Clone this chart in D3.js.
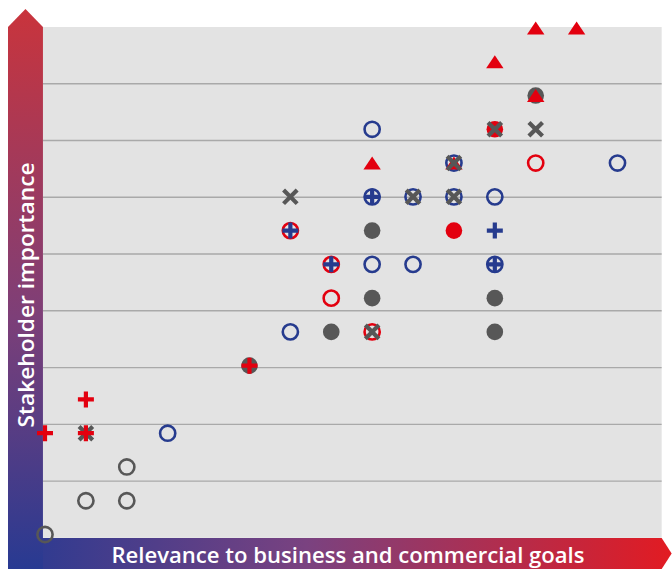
<!DOCTYPE html>
<html>
<head>
<meta charset="utf-8">
<script src="https://cdn.jsdelivr.net/npm/d3@7"></script>
<style>
body { margin: 0; background: #ffffff; }
</style>
</head>
<body>
<script>

//==============================================================================
// data: [relevance, importance] scores per marker type

var blueOpenCircles = [[3,3],[6,6],[8,8],[9,8],[11,8],[8,10],[9,10],[10,10],[11,10],[10,11],[14,11],[8,12]];
var redOpenCircles  = [[8,6],[7,7],[7,8],[6,9],[12,11]];
var grayOpenCircles = [[0,0],[1,1],[2,1],[2,2]];
var grayDots        = [[5,5],[7,6],[11,6],[8,7],[11,7],[8,9],[12,13]];
var redDots         = [[10,9],[11,12]];
var redTriangles    = [[8,11],[10,11],[12,13],[11,14],[12,15],[13,15]];
var grayCrosses     = [[1,3],[8,6],[6,10],[9,10],[10,10],[10,11],[11,12],[12,12]];
var redPluses       = [[0,3],[1,3],[1,4],[5,5]];
var bluePluses      = [[7,8],[11,8],[6,9],[11,9],[8,10]];

var xLabel = "Relevance to business and commercial goals";
var yLabel = "Stakeholder importance";

var BLUE = "#263b8e";
var RED = "#e3000f";
var GRAY = "#575757";

//==============================================================================

var totalWidth = 672;
var totalHeight = 569;

var svg = d3.select("body").append("svg")
    .attr("width", totalWidth)
    .attr("height", totalHeight);

var x = d3.scaleLinear().domain([0, 14]).range([45, 617.5]);
var y = d3.scaleLinear().domain([0, 15]).range([534.5, 28]);

var xMin = -0.05, xMax = 15.08;
var yMin = -0.1, yMax = 15.03;

var defs = svg.append("defs");

var gradV = defs.append("linearGradient").attr("id", "gradV")
    .attr("x1", 0).attr("y1", 0).attr("x2", 0).attr("y2", 1);
gradV.append("stop").attr("offset", "0%").attr("stop-color", "#c9343c");
gradV.append("stop").attr("offset", "55%").attr("stop-color", "#7d3f78");
gradV.append("stop").attr("offset", "100%").attr("stop-color", "#283a92");

var gradH = defs.append("linearGradient").attr("id", "gradH")
    .attr("x1", 0).attr("y1", 0).attr("x2", 1).attr("y2", 0);
gradH.append("stop").attr("offset", "0%").attr("stop-color", "#283a92");
gradH.append("stop").attr("offset", "45%").attr("stop-color", "#7a4280");
gradH.append("stop").attr("offset", "100%").attr("stop-color", "#e21b22");

// plot background
svg.append("rect")
    .attr("x", x(xMin)).attr("y", y(yMax))
    .attr("width", x(xMax) - x(xMin))
    .attr("height", y(yMin) - y(yMax))
    .attr("fill", "#e3e3e3");

// horizontal grid
var gridValues = d3.range(1, 9).map(function(k) { return yMin + k * (yMax - yMin) / 9; });
svg.append("g").selectAll("line").data(gridValues).enter().append("line")
    .attr("x1", x(xMin)).attr("x2", x(xMax))
    .attr("y1", function(d) { return y(d); })
    .attr("y2", function(d) { return y(d); })
    .attr("stroke", "#a9a9a9")
    .attr("stroke-width", 1.4);

// axis arrows
var arrLeft = 8, plotTop = y(yMax), plotBottom = y(yMin), plotLeft = x(xMin), plotRight = x(xMax);

svg.append("path")
    .attr("d", "M" + plotRight + "," + plotBottom + "L" + arrLeft + "," + plotBottom +
               "L" + arrLeft + "," + totalHeight + "L" + plotRight + "," + totalHeight +
               "L" + (plotRight + 10) + "," + ((plotBottom + totalHeight) / 2) + "Z")
    .attr("fill", "url(#gradH)");

svg.append("path")
    .attr("d", "M" + arrLeft + "," + plotTop + "L" + ((arrLeft + plotLeft) / 2) + ",9L" + plotLeft + "," + plotTop +
               "L" + plotLeft + "," + totalHeight + "L" + arrLeft + "," + totalHeight + "Z")
    .attr("fill", "url(#gradV)");

svg.append("text")
    .attr("x", 348).attr("y", 562.5)
    .attr("text-anchor", "middle")
    .attr("textLength", 473).attr("lengthAdjust", "spacingAndGlyphs")
    .style("font-family", "'Open Sans', 'Noto Sans', sans-serif")
    .style("font-size", "22px")
    .style("font-weight", "600")
    .attr("fill", "#ffffff")
    .text(xLabel);

svg.append("text")
    .attr("transform", "translate(33.5,295) rotate(-90)")
    .attr("text-anchor", "middle")
    .attr("textLength", 265).attr("lengthAdjust", "spacingAndGlyphs")
    .style("font-family", "'Open Sans', 'Noto Sans', sans-serif")
    .style("font-size", "22px")
    .style("font-weight", "600")
    .attr("fill", "#ffffff")
    .text(yLabel);

//==============================================================================
// markers, drawn in layering order

var marks = svg.append("g");

function openCircles(data, color) {
    marks.append("g").selectAll("circle").data(data).enter().append("circle")
        .attr("cx", function(d) { return x(d[0]); })
        .attr("cy", function(d) { return y(d[1]); })
        .attr("r", 7.6)
        .attr("fill", "none")
        .attr("stroke", color)
        .attr("stroke-width", 2.6);
}

function dots(data, color) {
    marks.append("g").selectAll("circle").data(data).enter().append("circle")
        .attr("cx", function(d) { return x(d[0]); })
        .attr("cy", function(d) { return y(d[1]); })
        .attr("r", 8.3)
        .attr("fill", color);
}

function triangles(data, color) {
    marks.append("g").selectAll("path").data(data).enter().append("path")
        .attr("transform", function(d) { return "translate(" + x(d[0]) + "," + y(d[1]) + ")"; })
        .attr("d", "M0,-6.5L8.7,6.5L-8.7,6.5Z")
        .attr("fill", color);
}

function crosses(data, color) {
    marks.append("g").selectAll("path").data(data).enter().append("path")
        .attr("transform", function(d) { return "translate(" + x(d[0]) + "," + y(d[1]) + ")"; })
        .attr("d", "M-6.8,-6.8L6.8,6.8M6.8,-6.8L-6.8,6.8")
        .attr("stroke", color)
        .attr("stroke-width", 4.2)
        .attr("fill", "none");
}

function pluses(data, color) {
    marks.append("g").selectAll("path").data(data).enter().append("path")
        .attr("transform", function(d) { return "translate(" + x(d[0]) + "," + y(d[1]) + ")"; })
        .attr("d", "M-8,0L8,0M0,-8L0,8")
        .attr("stroke", color)
        .attr("stroke-width", 4.2)
        .attr("fill", "none");
}

openCircles(blueOpenCircles, BLUE);
openCircles(redOpenCircles, RED);
openCircles(grayOpenCircles, GRAY);
dots(grayDots, GRAY);
dots(redDots, RED);
triangles(redTriangles, RED);
crosses(grayCrosses, GRAY);
pluses(redPluses, RED);
pluses(bluePluses, BLUE);

</script>
</body>
</html>
